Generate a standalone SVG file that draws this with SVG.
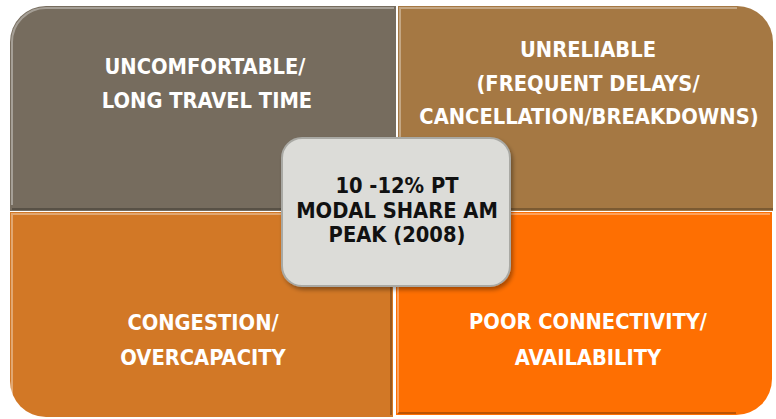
<svg xmlns="http://www.w3.org/2000/svg" width="776" height="419" viewBox="0 0 776 419">
<defs>
<style>
.t{font-family:"DejaVu Sans Condensed","DejaVu Sans",sans-serif;font-weight:bold;font-size:21.7px;text-anchor:middle;fill:#ffffff}
.c{fill:#111111}
.hl{fill:none;stroke:#ffffff;stroke-opacity:0.35;stroke-width:2}
.sh{fill:none;stroke:#000000;stroke-opacity:0.25;stroke-width:2}
</style>
<filter id="ds" x="-10%" y="-10%" width="130%" height="130%">
<feDropShadow dx="2" dy="3" stdDeviation="2" flood-color="#000" flood-opacity="0.35"/>
</filter>
</defs>
<rect width="776" height="419" fill="#ffffff"/>
<g id="node-tl">
<path d="M10,42 A36,36 0 0 1 46,6 L396,6 L396,211 L10,211 Z" fill="#766c5e"/>
<path class="hl" d="M12,205 L12,42 A34,34 0 0 1 46,8 L394,8"/>
<path class="sh" d="M12,209 L396,209"/>
<text class="t" x="205" y="74">UNCOMFORTABLE/</text>
<text class="t" x="207" y="108">LONG TRAVEL TIME</text>
</g>
<g id="node-tr">
<path d="M398,6 L737,6 A36,36 0 0 1 773,42 L773,211 L398,211 Z" fill="#a57843"/>
<path class="hl" d="M400,209 L400,8 L737,8"/>
<path class="sh" d="M398,209 L773,209"/>
<text class="t" x="588" y="57">UNRELIABLE</text>
<text class="t" x="588" y="91">(FREQUENT DELAYS/</text>
<text class="t" x="589" y="124">CANCELLATION/BREAKDOWNS)</text>
</g>
<g id="node-bl">
<path d="M10,212 L393,212 L393,417 L46,417 A36,36 0 0 1 10,381 Z" fill="#d27826"/>
<path class="hl" d="M12,414 L12,214 L391,214" stroke="#ffd89a"/>
<path class="sh" d="M391,214 L391,415"/>
<text class="t" x="203" y="330">CONGESTION/</text>
<text class="t" x="203" y="365">OVERCAPACITY</text>
</g>
<g id="node-br">
<path d="M396,212 L772,212 L772,379 A36,36 0 0 1 736,415 L396,415 Z" fill="#fe6f02"/>
<path class="hl" d="M398,413 L398,214 L770,214" stroke="#ffd89a"/>
<path class="sh" d="M398,413 L736,413"/>
<text class="t" x="588" y="329">POOR CONNECTIVITY/</text>
<text class="t" x="588" y="365">AVAILABILITY</text>
</g>
<g id="node-center">
<rect x="282" y="138" width="228" height="148" rx="20" ry="20" fill="#dcdcd8" stroke="#a9a9a4" stroke-width="2" filter="url(#ds)"/>
<text class="t c" x="397" y="193">10 -12% PT</text>
<text class="t c" x="397" y="218">MODAL SHARE AM</text>
<text class="t c" x="397" y="242">PEAK (2008)</text>
</g>
<g id="connectors"></g>
</svg>
